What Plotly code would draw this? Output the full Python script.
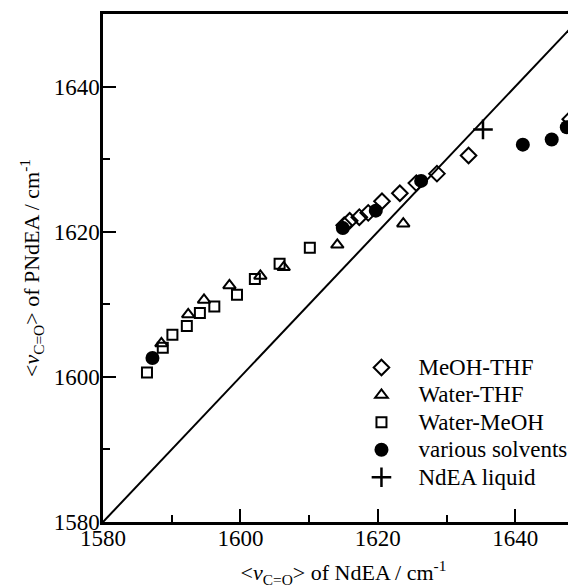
import plotly.graph_objects as go

# MeOH-THF (open diamonds)
meoh_thf_x = [1615.1, 1615.9, 1617.3, 1618.6, 1620.6, 1623.2, 1625.6, 1628.6, 1633.2, 1648.0]
meoh_thf_y = [1620.9, 1621.5, 1622.0, 1622.6, 1624.2, 1625.3, 1626.7, 1628.0, 1630.5, 1635.5]

# Water-THF (open triangles)
water_thf_x = [1588.5, 1592.4, 1594.7, 1598.4, 1602.9, 1606.3, 1614.1, 1623.7]
water_thf_y = [1604.6, 1608.6, 1610.6, 1612.6, 1613.9, 1615.1, 1618.2, 1621.1]

# Water-MeOH (open squares)
water_meoh_x = [1586.4, 1588.7, 1590.1, 1592.2, 1594.1, 1596.2, 1599.5, 1602.1, 1605.7, 1610.1]
water_meoh_y = [1600.6, 1604.0, 1605.8, 1607.0, 1608.8, 1609.7, 1611.3, 1613.5, 1615.6, 1617.8]

# various solvents (filled circles)
various_x = [1587.2, 1614.9, 1619.7, 1626.3, 1641.1, 1645.3, 1647.5]
various_y = [1602.6, 1620.5, 1622.9, 1627.0, 1632.0, 1632.7, 1634.4]

# NdEA liquid (plus)
liquid_x = [1635.3]
liquid_y = [1634.1]

# y = x reference line
diag = [1580, 1650]

x_range = [1580, 1650]
y_range = [1580, 1650]
tick_vals = [1580, 1600, 1620, 1640]
minor_vals = [1590, 1610, 1630]

FONT = "Liberation Serif, Times New Roman, serif"


def lbl(s):
    return '<span style="font-size:23px">' + s + '</span>'


fig = go.Figure()

fig.add_trace(go.Scatter(x=diag, y=diag, mode="lines",
                         line=dict(color="black", width=2),
                         showlegend=False, hoverinfo="skip"))

fig.add_trace(go.Scatter(x=meoh_thf_x, y=meoh_thf_y, mode="markers", name=lbl("MeOH-THF"),
                         marker=dict(symbol="diamond-open", size=12, color="black",
                                     line=dict(width=2, color="black"))))
fig.add_trace(go.Scatter(x=water_thf_x, y=water_thf_y, mode="markers", name=lbl("Water-THF"),
                         marker=dict(symbol="triangle-up-open", size=11, color="black",
                                     line=dict(width=2, color="black"))))
fig.add_trace(go.Scatter(x=water_meoh_x, y=water_meoh_y, mode="markers", name=lbl("Water-MeOH"),
                         marker=dict(symbol="square-open", size=10, color="black",
                                     line=dict(width=2, color="black"))))
fig.add_trace(go.Scatter(x=various_x, y=various_y, mode="markers", name=lbl("various solvents"),
                         marker=dict(symbol="circle", size=14, color="black")))
fig.add_trace(go.Scatter(x=liquid_x, y=liquid_y, mode="markers", name=lbl("NdEA liquid"),
                         marker=dict(symbol="cross-thin-open", size=14, color="black",
                                     line=dict(width=2.5, color="black"))))

fig.update_layout(
    width=576, height=580,
    margin=dict(l=95, r=0, t=6, b=61),
    paper_bgcolor="white", plot_bgcolor="white",
    font=dict(family=FONT, size=22, color="black"),
    showlegend=True,
    legend=dict(x=0.502, y=0.341, xanchor="left", yanchor="top",
                bgcolor="rgba(0,0,0,0)", font=dict(family=FONT, size=18.8),
                tracegroupgap=0, itemsizing="trace", itemwidth=64),
    xaxis=dict(range=x_range, tickvals=tick_vals, ticks="inside", ticklen=13, tickwidth=2,
               tickcolor="black", showline=True, linewidth=2.5, linecolor="black",
               mirror=True, showgrid=False, zeroline=False,
               tickfont=dict(family=FONT, size=23), ticklabelstandoff=-6,
               minor=dict(tickvals=minor_vals, ticks="inside", ticklen=7,
                          tickwidth=2, tickcolor="black", showgrid=False),
               title=dict(text="&lt;<i>ν</i><sub>C=O</sub>&gt; of NdEA / cm<sup>-1</sup>",
                          font=dict(family=FONT, size=22), standoff=21)),
    yaxis=dict(range=y_range, tickvals=tick_vals, ticks="inside", ticklen=13, tickwidth=2,
               tickcolor="black", showline=True, linewidth=2.5, linecolor="black",
               mirror=False, showgrid=False, zeroline=False,
               tickfont=dict(family=FONT, size=23), ticklabelstandoff=-4,
               minor=dict(tickvals=minor_vals, ticks="inside", ticklen=7,
                          tickwidth=2, tickcolor="black", showgrid=False),
               title=dict(text="&lt;<i>ν</i><sub>C=O</sub>&gt; of PNdEA / cm<sup>-1</sup>",
                          font=dict(family=FONT, size=22), standoff=8)),
)

fig.write_html("out.html")
